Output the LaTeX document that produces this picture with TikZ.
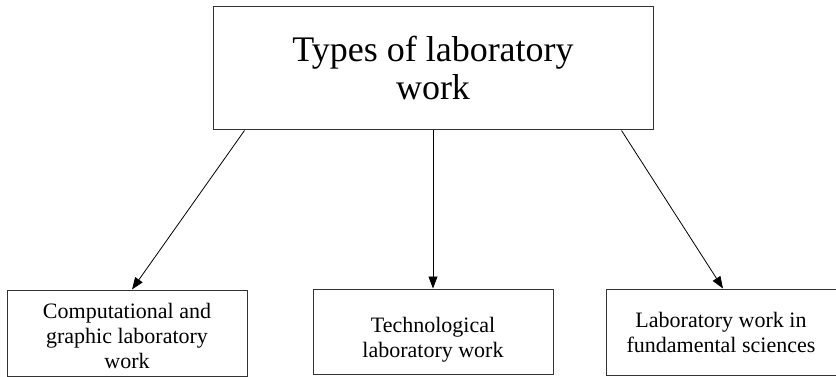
\documentclass[tikz,border=0pt]{standalone}
\usepackage{fontspec}
\setmainfont{Liberation Serif}
\usetikzlibrary{arrows.meta}

\tikzset{
	kindbox/.style={draw=black!80, line width=1pt, minimum width=240pt, minimum height=86pt, align=center, inner sep=0pt, font=\fontsize{22}{25}\selectfont},
	link/.style={line width=0.8pt, -{Triangle[length=12pt,width=9pt]}}
}

\begin{document}
\begin{tikzpicture}[x=1pt,y=-1pt]
	\useasboundingbox (0,0) rectangle (836,377);
	\node[draw=black!80, line width=1pt, minimum width=440pt, minimum height=123pt, align=center, font=\fontsize{36}{38}\selectfont] (types) at (433,68.5) {Types of laboratory\\work};
	
	% bottom row, the struts push the text a bit down
	\node[kindbox] (comp) at (127,333) {\rule{0pt}{21pt}Computational and\\graphic laboratory\\work};
	\node[kindbox, minimum height=85pt] (tech) at (433,331.5) {\rule{0pt}{31pt}Technological\\laboratory work};
	% right box runs off the page
	\node[kindbox, minimum width=248pt] (fund) at (730,332) {Laboratory work in\hspace*{18pt}\\fundamental sciences\hspace*{18pt}};
	
	\draw[link] ([xshift=32pt]types.south west) -- ([xshift=5pt]comp.north);
	\draw[link] (types.south) -- (tech.north);
	\draw[link] ([xshift=-32pt]types.south east) -- ([xshift=-7pt]fund.north);
\end{tikzpicture}
\end{document}
